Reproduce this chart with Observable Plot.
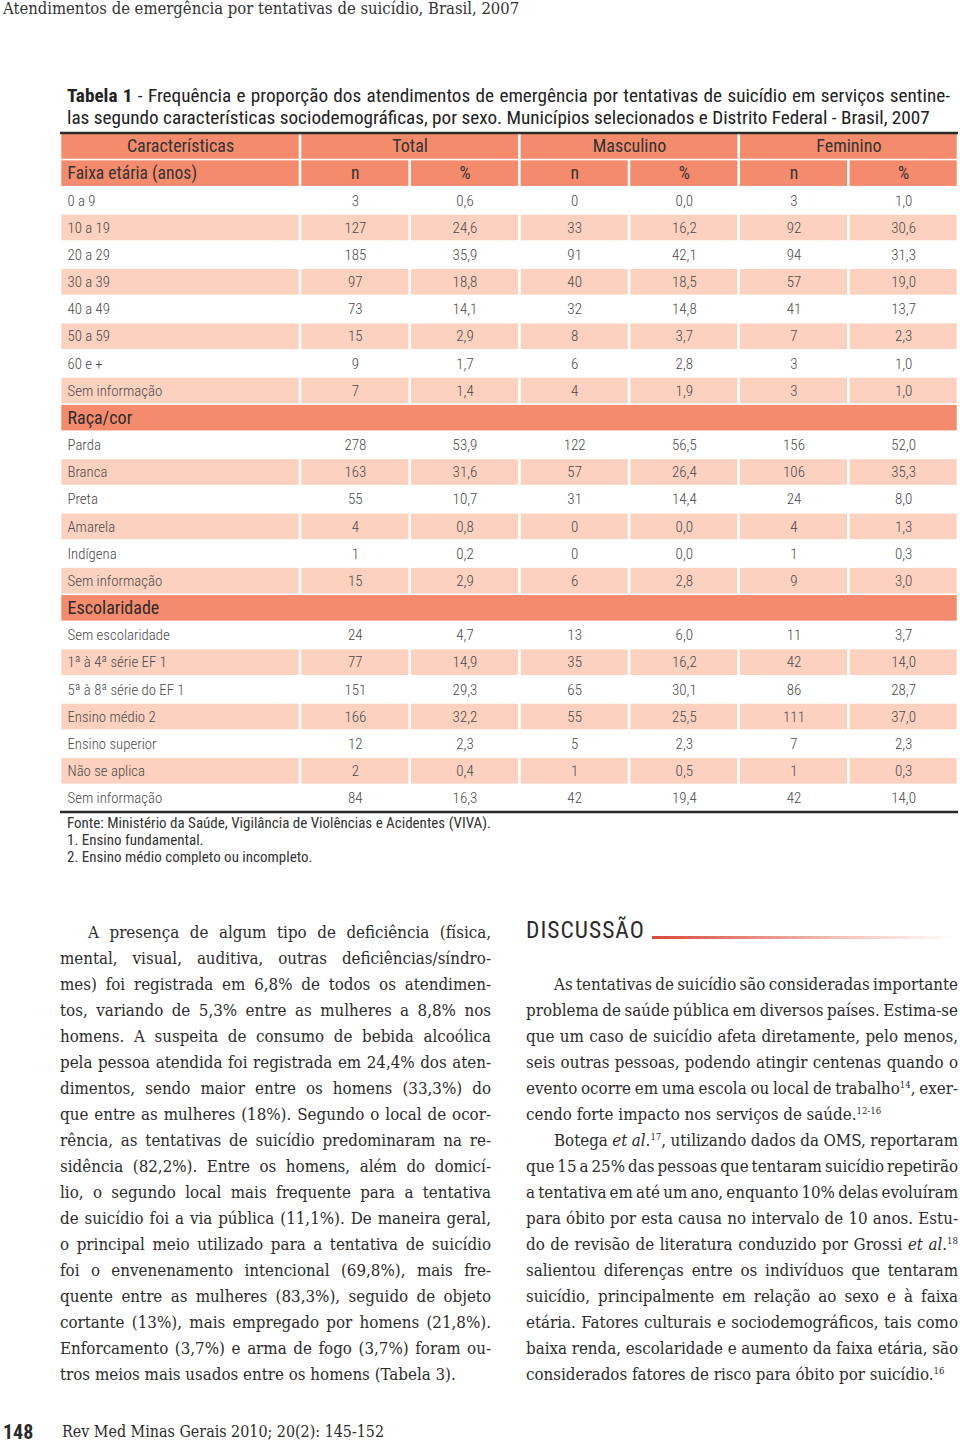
<!DOCTYPE html>
<html><head><meta charset="utf-8">
<script src="https://cdn.jsdelivr.net/npm/d3@7"></script>
<script src="https://cdn.jsdelivr.net/npm/@observablehq/plot@0.6"></script>
<style>
body{margin:0;background:#fff;}
#page{position:relative;width:960px;height:1445px;overflow:hidden;color:#2b2b2b;}
.abs{position:absolute;}
.serif{font-family:'DejaVu Serif Condensed','Liberation Serif',serif;}
.narrow{font-family:'Roboto Condensed','Roboto',sans-serif;}
.col .l{height:26px;line-height:26px;text-align:justify;text-align-last:justify;white-space:nowrap;}
.col .l.last{text-align-last:left;}
.col .l.ind{text-indent:28px;}
sup{font-size:9.5px;line-height:0;vertical-align:6px;}
</style>
</head><body><div id="page">
<div class="abs serif" style="left:3px;top:-1px;font-size:16.5px;line-height:20px;color:#333;">Atendimentos de emergência por tentativas de suicídio, Brasil, 2007</div>
<div class="abs narrow" style="left:67px;top:85px;width:883px;font-size:19.2px;line-height:22px;color:#222;">
<div class="fit" style="text-align:justify;text-align-last:justify;white-space:nowrap;"><b>Tabela 1</b> - Frequência e proporção dos atendimentos de emergência por tentativas de suicídio em serviços sentine-</div>
<div style="white-space:nowrap;">las segundo características sociodemográficas, por sexo. Municípios selecionados e Distrito Federal - Brasil, 2007</div>
</div>
<div id="chart" class="abs" style="left:0;top:120px;"></div>
<div class="abs narrow" style="left:67px;top:815px;font-size:15px;line-height:17px;color:#333;">
<div>Fonte: Ministério da Saúde, Vigilância de Violências e Acidentes (VIVA).</div>
<div>1. Ensino fundamental.</div>
<div>2. Ensino médio completo ou incompleto.</div>
</div>

<div class="abs serif col" style="left:60px;top:919px;width:431px;font-size:16.8px;color:#2b2b2b;">
<div class="l ind">A presença de algum tipo de deficiência (física,</div>
<div class="l">mental, visual, auditiva, outras deficiências/síndro-</div>
<div class="l">mes) foi registrada em 6,8% de todos os atendimen-</div>
<div class="l">tos, variando de 5,3% entre as mulheres a 8,8% nos</div>
<div class="l">homens. A suspeita de consumo de bebida alcoólica</div>
<div class="l">pela pessoa atendida foi registrada em 24,4% dos aten-</div>
<div class="l">dimentos, sendo maior entre os homens (33,3%) do</div>
<div class="l">que entre as mulheres (18%). Segundo o local de ocor-</div>
<div class="l">rência, as tentativas de suicídio predominaram na re-</div>
<div class="l">sidência (82,2%). Entre os homens, além do domicí-</div>
<div class="l">lio, o segundo local mais frequente para a tentativa</div>
<div class="l">de suicídio foi a via pública (11,1%). De maneira geral,</div>
<div class="l">o principal meio utilizado para a tentativa de suicídio</div>
<div class="l">foi o envenenamento intencional (69,8%), mais fre-</div>
<div class="l">quente entre as mulheres (83,3%), seguido de objeto</div>
<div class="l">cortante (13%), mais empregado por homens (21,8%).</div>
<div class="l">Enforcamento (3,7%) e arma de fogo (3,7%) foram ou-</div>
<div class="l last">tros meios mais usados entre os homens (Tabela 3).</div>
</div>

<div class="abs narrow" style="left:526px;top:914px;font-size:23.5px;line-height:32px;letter-spacing:1px;color:#2b2b2b;">DISCUSSÃO</div>
<div class="abs" style="left:652px;top:936px;width:306px;height:3px;background:linear-gradient(to right,#d8493a,rgba(236,140,120,0.55) 60%,rgba(255,255,255,0));"></div>

<div class="abs serif col" style="left:526px;top:971px;width:432px;font-size:16.8px;color:#2b2b2b;">
<div class="l ind">As tentativas de suicídio são consideradas importante</div>
<div class="l">problema de saúde pública em diversos países. Estima-se</div>
<div class="l">que um caso de suicídio afeta diretamente, pelo menos,</div>
<div class="l">seis outras pessoas, podendo atingir centenas quando o</div>
<div class="l">evento ocorre em uma escola ou local de trabalho<sup>14</sup>, exer-</div>
<div class="l last">cendo forte impacto nos serviços de saúde.<sup>12-16</sup></div>
<div class="l ind">Botega <i>et al</i>.<sup>17</sup>, utilizando dados da OMS, reportaram</div>
<div class="l">que 15 a 25% das pessoas que tentaram suicídio repetirão</div>
<div class="l">a tentativa em até um ano, enquanto 10% delas evoluíram</div>
<div class="l">para óbito por esta causa no intervalo de 10 anos. Estu-</div>
<div class="l">do de revisão de literatura conduzido por Grossi <i>et al</i>.<sup>18</sup></div>
<div class="l">salientou diferenças entre os indivíduos que tentaram</div>
<div class="l">suicídio, principalmente em relação ao sexo e à faixa</div>
<div class="l">etária. Fatores culturais e sociodemográficos, tais como</div>
<div class="l">baixa renda, escolaridade e aumento da faixa etária, são</div>
<div class="l last">considerados fatores de risco para óbito por suicídio.<sup>16</sup></div>
</div>

<div class="abs narrow" style="left:3px;top:1420px;font-size:20px;line-height:24px;font-weight:bold;color:#2b2b2b;">148</div>
<div class="abs serif" style="left:62px;top:1421px;font-size:15.9px;line-height:22px;color:#2b2b2b;">Rev Med Minas Gerais 2010; 20(2): 145-152</div>
</div>
<script>
// ---- data ----
const groupHeaders = ["Características", "Total", "Masculino", "Feminino"];
const subHeaders = ["n", "%", "n", "%", "n", "%"];
const ageTitle = "Faixa etária (anos)";
const ageLabels = ["0 a 9", "10 a 19", "20 a 29", "30 a 39", "40 a 49", "50 a 59", "60 e +", "Sem informação"];
const ageTotalN = [3, 127, 185, 97, 73, 15, 9, 7];
const ageTotalPct = [0.6, 24.6, 35.9, 18.8, 14.1, 2.9, 1.7, 1.4];
const ageMascN = [0, 33, 91, 40, 32, 8, 6, 4];
const ageMascPct = [0.0, 16.2, 42.1, 18.5, 14.8, 3.7, 2.8, 1.9];
const ageFemN = [3, 92, 94, 57, 41, 7, 3, 3];
const ageFemPct = [1.0, 30.6, 31.3, 19.0, 13.7, 2.3, 1.0, 1.0];

const raceTitle = "Raça/cor";
const raceLabels = ["Parda", "Branca", "Preta", "Amarela", "Indígena", "Sem informação"];
const raceTotalN = [278, 163, 55, 4, 1, 15];
const raceTotalPct = [53.9, 31.6, 10.7, 0.8, 0.2, 2.9];
const raceMascN = [122, 57, 31, 0, 0, 6];
const raceMascPct = [56.5, 26.4, 14.4, 0.0, 0.0, 2.8];
const raceFemN = [156, 106, 24, 4, 1, 9];
const raceFemPct = [52.0, 35.3, 8.0, 1.3, 0.3, 3.0];

const eduTitle = "Escolaridade";
const eduLabels = ["Sem escolaridade", "1ª à 4ª série EF 1", "5ª à 8ª série do EF 1", "Ensino médio 2", "Ensino superior", "Não se aplica", "Sem informação"];
const eduTotalN = [24, 77, 151, 166, 12, 2, 84];
const eduTotalPct = [4.7, 14.9, 29.3, 32.2, 2.3, 0.4, 16.3];
const eduMascN = [13, 35, 65, 55, 5, 1, 42];
const eduMascPct = [6.0, 16.2, 30.1, 25.5, 2.3, 0.5, 19.4];
const eduFemN = [11, 42, 86, 111, 7, 1, 42];
const eduFemPct = [3.7, 14.0, 28.7, 37.0, 2.3, 0.3, 14.0];

// ---- layout / style ----
const colEdges = [60, 300, 409.7, 519.3, 629, 738.7, 848.3, 958];
const groupEdges = [[0, 1], [1, 3], [3, 5], [5, 7]];
const SALMON = "#f58b6d";
const PINK = "#fcd1bf";
const FONT = "'Roboto Condensed','Roboto',sans-serif";

const fmtPct = v => v.toFixed(1).replace(".", ",");
const sections = [
  {title: null, labels: ageLabels, series: [ageTotalN, ageTotalPct, ageMascN, ageMascPct, ageFemN, ageFemPct]},
  {title: raceTitle, labels: raceLabels, series: [raceTotalN, raceTotalPct, raceMascN, raceMascPct, raceFemN, raceFemPct]},
  {title: eduTitle, labels: eduLabels, series: [eduTotalN, eduTotalPct, eduMascN, eduMascPct, eduFemN, eduFemPct]}
];

const rows = [{kind: "h1"}, {kind: "h2", label: ageTitle}];
for (const s of sections) {
  if (s.title) rows.push({kind: "sec", label: s.title});
  s.labels.forEach((lab, j) => rows.push({
    kind: "data", label: lab, stripe: j % 2 === 1,
    vals: s.series.map((arr, k) => k % 2 === 0 ? String(arr[j]) : fmtPct(arr[j]))
  }));
}
rows.forEach((r, i) => r.i = i);
const nRows = rows.length;

const cells = [];
const texts = [];
const mid = k => (colEdges[k] + colEdges[k + 1]) / 2;
for (const r of rows) {
  const i = r.i;
  if (r.kind === "h1") {
    groupEdges.forEach(([a, b], g) => {
      cells.push({i, x1: colEdges[a], x2: colEdges[b], fill: SALMON});
      texts.push({i, x: (colEdges[a] + colEdges[b]) / 2, text: groupHeaders[g], anchor: "middle", size: 18, col: "#333", w: 400});
    });
  } else if (r.kind === "h2") {
    for (let k = 0; k < 7; k++) cells.push({i, x1: colEdges[k], x2: colEdges[k + 1], fill: SALMON});
    texts.push({i, x: 67, text: r.label, anchor: "start", size: 17.6, col: "#333", w: 400});
    subHeaders.forEach((t, k) => texts.push({i, x: mid(k + 1), text: t, anchor: "middle", size: 17.6, col: "#333", w: 400}));
  } else if (r.kind === "sec") {
    cells.push({i, x1: colEdges[0], x2: colEdges[7], fill: SALMON});
    texts.push({i, x: 67, text: r.label, anchor: "start", size: 18, col: "#2b2b2b", w: 400});
  } else {
    if (r.stripe) for (let k = 0; k < 7; k++) cells.push({i, x1: colEdges[k], x2: colEdges[k + 1], fill: PINK});
    texts.push({i, x: 67, text: r.label, anchor: "start", size: 14.8, col: "#4a4a4a", w: 300});
    r.vals.forEach((v, k) => texts.push({i, x: mid(k + 1), text: v, anchor: "middle", size: 15, col: "#4a4a4a", w: 300}));
  }
}

const textMarks = [];
for (const a of ["start", "middle"]) for (const w of [300, 400]) {
  const sub = texts.filter(t => t.anchor === a && t.w === w);
  if (sub.length) textMarks.push(Plot.text(sub, {
    x: "x", y: d => d.i + 0.5, text: "text", textAnchor: a,
    fontSize: d => d.size, fill: "col", fontFamily: FONT, fontWeight: w
  }));
}

const chart = Plot.plot({
  width: 960, height: 700,
  marginLeft: 0, marginRight: 0, marginTop: 12.4, marginBottom: 8.4,
  x: {domain: [0, 960], axis: null},
  y: {domain: [nRows, 0], axis: null},
  color: {type: "identity"},
  style: {fontFamily: FONT, background: "transparent"},
  marks: [
    Plot.rect(cells, {x1: "x1", x2: "x2", y1: d => d.i, y2: d => d.i + 1, fill: "fill",
      insetLeft: 1.3, insetRight: 1.3, insetTop: 0.8, insetBottom: 0.8}),
    Plot.ruleY([0, nRows], {x1: colEdges[0], x2: colEdges[7], stroke: "#2a2a2a", strokeWidth: 2.5}),
    ...textMarks
  ]
});
document.getElementById("chart").appendChild(chart);

// shrink word spacing of any justified line whose natural width overflows its box
document.querySelectorAll(".col .l, .fit").forEach(el => {
  const span = document.createElement("span");
  while (el.firstChild) span.appendChild(el.firstChild);
  el.appendChild(span);
  const cw = el.clientWidth - (el.classList.contains("ind") ? 28 : 0);
  const sw = span.getBoundingClientRect().width;
  if (sw > cw) {
    const spaces = (span.textContent.match(/ /g) || []).length || 1;
    el.style.wordSpacing = ((cw - sw) / spaces - 0.2) + "px";
  }
});
</script>
</body></html>
